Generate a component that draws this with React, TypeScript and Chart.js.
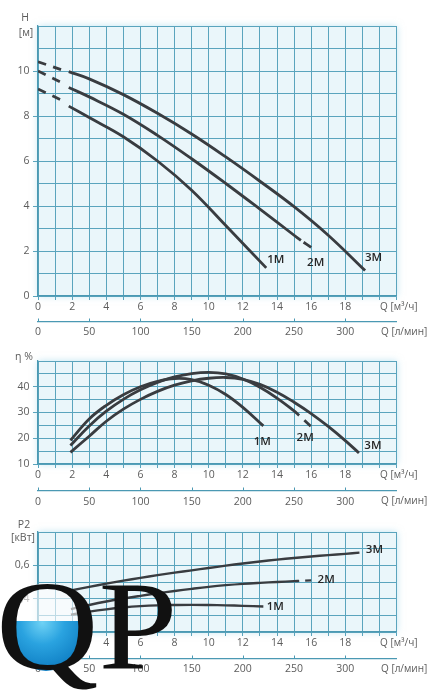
import React, { useEffect, useRef } from 'react';
import { Chart, registerables } from 'chart.js';

Chart.register(...registerables);

// ---------- axes ----------
const Q_M3H_MAX = 21;
const Q_LMIN_MAX = 350;
const Q_M3H_LABELS = [0, 2, 4, 6, 8, 10, 12, 14, 16, 18];
const Q_LMIN_LABELS = [0, 50, 100, 150, 200, 250, 300];
const HEAD_LABELS = [0, 2, 4, 6, 8, 10];
const EFF_LABELS = [10, 20, 30, 40];
const POWER_LABELS = [0.2, 0.4, 0.6];
const SERIES_NAMES = ['1M', '2M', '3M'];

// ---------- head H [m] ----------
const H_1M_DASH_Q = [0, 1.33];
const H_1M_DASH = [9.2, 8.72];
const H_1M_Q = [1.8, 3, 5, 7, 9, 11, 13.37];
const H_1M = [8.44, 7.93, 7.08, 6.0, 4.7, 3.13, 1.25];

const H_2M_DASH_Q = [0, 1.33];
const H_2M_DASH = [10.0, 9.5];
const H_2M_Q = [1.8, 3, 5, 7, 9, 11, 13, 15, 15.4];
const H_2M = [9.27, 8.85, 8.08, 7.14, 6.1, 5.0, 3.86, 2.7, 2.47];
const H_2M_END_Q = [15.4, 16.0];
const H_2M_END = [2.47, 2.16];

const H_3M_DASH_Q = [0, 1.35];
const H_3M_DASH = [10.41, 10.06];
const H_3M_Q = [1.8, 3, 5, 7, 9, 11, 13, 15, 17, 19.16];
const H_3M = [9.97, 9.65, 8.95, 8.12, 7.2, 6.18, 5.1, 3.97, 2.7, 1.13];

// ---------- efficiency η [%] ----------
const E_1M_Q = [1.9, 3, 4, 5, 6, 7, 8, 9, 10, 11, 12, 13.2];
const E_1M = [19.2, 27.5, 32.8, 36.9, 40.0, 42.1, 43.2, 42.8, 40.6, 37.0, 32.0, 24.8];

const E_2M_Q = [1.9, 3, 4, 5, 6, 7, 8, 9, 10, 11, 12, 13, 14, 15, 15.3];
const E_2M = [17.2, 24.8, 30.5, 35.1, 38.8, 41.7, 43.8, 45.1, 45.6, 45.0, 43.0, 39.8, 35.6, 30.6, 28.9];
const E_2M_END_Q = [15.3, 16.0];
const E_2M_END = [28.9, 24.5];

const E_3M_Q = [1.9, 3, 4, 5, 6, 7, 8, 9, 10, 11, 12, 13, 14, 15, 16, 17, 18, 18.8];
const E_3M = [14.5, 20.8, 26.6, 31.3, 35.1, 38.2, 40.6, 42.3, 43.3, 43.6, 42.9, 40.9, 37.9, 34.0, 29.6, 24.6, 19.1, 14.3];

// ---------- power P2 [kW] ----------
const P_1M_Q = [1.93, 3, 4, 5, 6, 7, 8, 9, 10, 11, 12, 13.2];
const P_1M = [0.304, 0.322, 0.336, 0.347, 0.355, 0.36, 0.362, 0.363, 0.362, 0.36, 0.357, 0.353];

const P_2M_Q = [1.93, 3, 4, 5, 6, 7, 8, 9, 10, 11, 12, 13, 14, 15, 15.3];
const P_2M = [0.337, 0.362, 0.383, 0.401, 0.417, 0.432, 0.446, 0.459, 0.471, 0.481, 0.489, 0.495, 0.5, 0.505, 0.507];
const P_2M_END_Q = [15.3, 16.0];
const P_2M_END = [0.507, 0.51];

const P_3M_Q = [1.93, 3, 4, 5, 6, 7, 8, 9, 10, 11, 12, 13, 14, 15, 16, 17, 18, 18.83];
const P_3M = [0.449, 0.471, 0.49, 0.508, 0.525, 0.541, 0.556, 0.57, 0.584, 0.598, 0.611, 0.623, 0.634, 0.644, 0.653, 0.661, 0.669, 0.676];

// ---------- styles ----------
const W = 439;
const GRID = '#5aa4bd';
const BORDER = '#4b99b3';
const PLOT_BG = '#eaf6fa';
const CURVE = '#393c40';
const TICK_TEXT = '#5c5c5c';
const TICK_FONT = { family: '"Open Sans", sans-serif', size: 10.5 };
const CHART_RIGHT_PAD = 42.5;

type Series = { q: number[]; v: number[]; dash?: number[]; dashOffset?: number; width: number };
type CurveLabel = { text: string; series: number; dx: number; dy: number };
type YTitle = { text: string; x: number; dy: number };
type Panel = {
  top: number; height: number; padTop: number; xH: number; x2H: number; x2Pad: number;
  yMin: number; yMax: number; yStep: number; isLabel: (v: number) => boolean; fmt: (v: number) => string;
  series: Series[]; labels: CurveLabel[]; yTitles: YTitle[];
};

const near = (arr: number[], v: number) => arr.some((a) => Math.abs(a - v) < 1e-6);

const PANELS: Panel[] = [
  {
    top: 0, height: 345, padTop: 26, xH: 26, x2H: 23, x2Pad: 3.8,
    yMin: 0, yMax: 12, yStep: 1,
    isLabel: (v) => near(HEAD_LABELS, v), fmt: (v) => String(Math.round(v)),
    series: [
      { q: H_1M_DASH_Q, v: H_1M_DASH, dash: [8.5, 7.5], width: 2.8 },
      { q: H_2M_DASH_Q, v: H_2M_DASH, dash: [8.5, 7.5], width: 2.8 },
      { q: H_3M_DASH_Q, v: H_3M_DASH, dash: [8.5, 7.5], width: 2.8 },
      { q: H_1M_Q, v: H_1M, width: 2.8 },
      { q: H_2M_Q, v: H_2M, width: 2.8 },
      { q: H_3M_Q, v: H_3M, width: 2.8 },
      { q: H_2M_END_Q, v: H_2M_END, dash: [10, 3], dashOffset: 10, width: 2.8 },
    ],
    labels: [
      { text: SERIES_NAMES[0], series: 3, dx: 9.5, dy: -8 },
      { text: SERIES_NAMES[1], series: 6, dx: 4.5, dy: 15 },
      { text: SERIES_NAMES[2], series: 5, dx: 8.5, dy: -12.5 },
    ],
    yTitles: [
      { text: 'H', x: 25, dy: -8 },
      { text: '[м]', x: 26, dy: 7 },
    ],
  },
  {
    top: 345, height: 170, padTop: 16, xH: 27, x2H: 24, x2Pad: 4.3,
    yMin: 10, yMax: 50, yStep: 5,
    isLabel: (v) => near(EFF_LABELS, v), fmt: (v) => String(Math.round(v)),
    series: [
      { q: E_1M_Q, v: E_1M, width: 2.8 },
      { q: E_2M_Q, v: E_2M, width: 2.8 },
      { q: E_3M_Q, v: E_3M, width: 2.8 },
      { q: E_2M_END_Q, v: E_2M_END, dash: [9, 7], dashOffset: 9, width: 2.8 },
    ],
    labels: [
      { text: SERIES_NAMES[0], series: 0, dx: -1, dy: 15.5 },
      { text: SERIES_NAMES[1], series: 3, dx: -6, dy: 11.5 },
      { text: SERIES_NAMES[2], series: 2, dx: 14, dy: -7 },
    ],
    yTitles: [{ text: 'η %', x: 24, dy: -4 }],
  },
  {
    top: 515, height: 181, padTop: 17, xH: 27, x2H: 37, x2Pad: 3.8,
    yMin: 0.2, yMax: 0.8, yStep: 0.1,
    isLabel: (v) => near(POWER_LABELS, v), fmt: (v) => v.toFixed(1).replace('.', ','),
    series: [
      { q: P_1M_Q, v: P_1M, width: 2.4 },
      { q: P_2M_Q, v: P_2M, width: 2.4 },
      { q: P_3M_Q, v: P_3M, width: 2.4 },
      { q: P_2M_END_Q, v: P_2M_END, dash: [6, 6], dashOffset: 6, width: 2.4 },
    ],
    labels: [
      { text: SERIES_NAMES[0], series: 0, dx: 12, dy: 0 },
      { text: SERIES_NAMES[1], series: 3, dx: 15, dy: -1 },
      { text: SERIES_NAMES[2], series: 2, dx: 15, dy: -2.5 },
    ],
    yTitles: [
      { text: 'P2', x: 24, dy: -7 },
      { text: '[кВт]', x: 23, dy: 6 },
    ],
  },
];

function makeConfig(p: Panel): any {
  const bgPlugin = {
    id: 'plotBg',
    beforeDraw(chart: any) {
      const { ctx, chartArea: a } = chart;
      ctx.save();
      ctx.shadowColor = 'rgba(140,205,230,0.55)';
      ctx.shadowBlur = 7;
      ctx.fillStyle = PLOT_BG;
      ctx.fillRect(a.left, a.top, a.right - a.left, a.bottom - a.top);
      ctx.restore();
    },
  };
  const textPlugin = {
    id: 'texts',
    afterDraw(chart: any) {
      const { ctx, chartArea: a, scales } = chart;
      ctx.save();
      // l/min axis upward ticks
      const x2 = scales.x2;
      ctx.strokeStyle = BORDER;
      ctx.lineWidth = 1;
      Q_LMIN_LABELS.forEach((v) => {
        const px = Math.round(x2.getPixelForValue(v)) + 0.5;
        ctx.beginPath();
        ctx.moveTo(px, x2.top);
        ctx.lineTo(px, x2.top - 3.5);
        ctx.stroke();
      });
      // y titles
      ctx.fillStyle = TICK_TEXT;
      ctx.textAlign = 'center';
      ctx.textBaseline = 'middle';
      ctx.font = '10.5px "Open Sans", sans-serif';
      p.yTitles.forEach((t) => ctx.fillText(t.text, t.x, a.top + t.dy));
      // x titles
      ctx.textAlign = 'left';
      ctx.font = '10px "Open Sans", sans-serif';
      ctx.fillText('Q [м³/ч]', a.right - 16.5, a.bottom + 11.5);
      ctx.fillText('Q [л/мин]', a.right - 15.5, x2.top + 10.5);
      // curve labels
      ctx.fillStyle = '#262626';
      ctx.textAlign = 'center';
      ctx.font = '600 11.5px "Open Sans", sans-serif';
      p.labels.forEach((l) => {
        const pts = chart.getDatasetMeta(l.series).data;
        const last = pts[pts.length - 1];
        ctx.fillText(l.text, last.x + l.dx, last.y + l.dy);
      });
      ctx.restore();
    },
  };

  return {
    type: 'line',
    data: {
      datasets: p.series.map((s) => ({
        data: s.q.map((q, i) => ({ x: q, y: s.v[i] })),
        borderColor: CURVE,
        borderWidth: s.width,
        borderDash: s.dash || [],
        borderDashOffset: s.dashOffset || 0,
        borderCapStyle: 'butt',
        pointRadius: 0,
        fill: false,
        tension: 0.4,
      })),
    },
    options: {
      responsive: false,
      animation: false,
      events: [],
      layout: { padding: { top: p.padTop, right: CHART_RIGHT_PAD, left: 0, bottom: 0 } },
      plugins: { legend: { display: false }, tooltip: { enabled: false } },
      scales: {
        x: {
          type: 'linear', position: 'bottom', min: 0, max: Q_M3H_MAX, weight: 0,
          ticks: {
            stepSize: 1, autoSkip: false, maxRotation: 0, minRotation: 0, padding: 1.2,
            color: TICK_TEXT, font: TICK_FONT,
            callback: (v: number) => (near(Q_M3H_LABELS, v) ? String(v) : ''),
          },
          grid: { color: GRID, lineWidth: 1, tickLength: 4, tickColor: GRID },
          border: { color: BORDER, width: 1.3 },
          afterFit: (s: any) => { s.height = p.xH; },
        },
        x2: {
          type: 'linear', position: 'bottom', min: 0, max: Q_LMIN_MAX, weight: 1,
          ticks: {
            stepSize: 50, autoSkip: false, maxRotation: 0, minRotation: 0, padding: p.x2Pad,
            color: TICK_TEXT, font: TICK_FONT,
            callback: (v: number) => (near(Q_LMIN_LABELS, v) ? String(v) : ''),
          },
          grid: { display: false, drawTicks: false, drawOnChartArea: false },
          border: { display: true, color: BORDER, width: 1.3 },
          afterFit: (s: any) => { s.height = p.x2H; },
        },
        y: {
          type: 'linear', position: 'left', min: p.yMin, max: p.yMax,
          ticks: {
            stepSize: p.yStep, autoSkip: false, padding: 3.5,
            color: TICK_TEXT, font: TICK_FONT,
            callback: (v: number) => (p.isLabel(v) ? p.fmt(v) : ''),
          },
          grid: {
            color: GRID, lineWidth: 1, tickLength: 5,
            tickColor: (ctx: any) => (ctx.tick && p.isLabel(ctx.tick.value) ? GRID : 'rgba(0,0,0,0)'),
          },
          border: { color: BORDER, width: 1.3 },
          afterFit: (s: any) => { s.width = 38; },
        },
      },
    },
    plugins: [bgPlugin, textPlugin],
  };
}

function PanelChart({ panel }: { panel: Panel }) {
  const ref = useRef<HTMLCanvasElement | null>(null);
  useEffect(() => {
    if (!ref.current) return;
    const chart = new Chart(ref.current, makeConfig(panel));
    return () => chart.destroy();
  }, [panel]);
  return (
    <canvas
      ref={ref}
      width={W}
      height={panel.height}
      style={{ position: 'absolute', left: 0, top: panel.top, width: W, height: panel.height }}
    />
  );
}

function Logo() {
  return (
    <>
      <div style={{ position: 'absolute', left: 10, top: 583, width: 72, height: 38, overflow: 'hidden' }}>
        <div style={{ position: 'absolute', left: 0, top: 0, width: 72, height: 88, borderRadius: '50%', background: 'rgba(255,255,255,0.6)' }} />
      </div>
      <div style={{ position: 'absolute', left: 10, top: 621, width: 72, height: 50, overflow: 'hidden' }}>
        <div
          style={{
            position: 'absolute', left: 0, top: -38, width: 72, height: 88, borderRadius: '50%',
            background: 'radial-gradient(circle at 45% 45%, #6fd2f5 0%, #2aa3e0 35%, #1384c8 70%, #0c6aae 100%)',
          }}
        />
      </div>
      <div
        style={{
          position: 'absolute', left: -4, top: 561.5, fontFamily: '"Liberation Serif", "DejaVu Serif", serif',
          fontSize: 128, lineHeight: '128px', color: '#111', whiteSpace: 'nowrap',
          transform: 'scaleX(1.11)', transformOrigin: 'left top',
        }}
      >
        QP
      </div>
    </>
  );
}

export default function App() {
  useEffect(() => {
    document.body.style.margin = '0';
    document.body.style.background = '#ffffff';
  }, []);
  return (
    <div style={{ position: 'absolute', left: 0, top: 0, width: W, height: 696, overflow: 'hidden', background: '#fff' }}>
      {PANELS.map((p, i) => (
        <PanelChart key={i} panel={p} />
      ))}
      <Logo />
    </div>
  );
}
